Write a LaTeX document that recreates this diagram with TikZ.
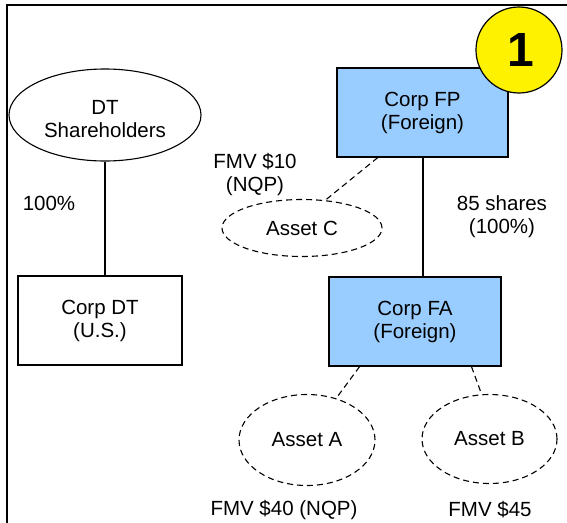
\documentclass[tikz,border=0pt]{standalone}
\usepackage{fontspec}
\setmainfont{Liberation Sans}
\usetikzlibrary{shapes.geometric,calc}
\definecolor{boxblue}{HTML}{99CCFF}
\begin{document}
\begin{tikzpicture}[x=1pt,y=-1pt,
  txt/.style={font=\fontsize{20.5}{23}\selectfont, align=center, inner sep=0pt},
  corpbox/.style={draw, line width=1.2pt, txt, minimum width=#1, minimum height=89pt},
  bluebox/.style={corpbox=#1, fill=boxblue},
  solidell/.style={ellipse, draw, line width=1.1pt, txt},
  assetell/.style={ellipse, draw, dashed, dash pattern=on 6pt off 4pt, line width=1.1pt, txt},
  link/.style={line width=1.1pt},
  dlink/.style={line width=1.1pt, dash pattern=on 6pt off 4pt},
  lbl/.style={txt}
]
\useasboundingbox (0,0) rectangle (567,522);
% frame
\draw[line width=2pt] (7,523) -- (7,5) -- (568,5);

% nodes
\node[solidell, minimum width=192pt, minimum height=92pt] (sh) at (105,115) {};
\node[txt] (shtext) at (105,119) {DT\\Shareholders};
\node[corpbox=164pt] (dt) at (100,320.5) {Corp DT\\(U.S.)};
\node[bluebox=171pt] (fp) at (422.5,112.5) {Corp FP\\(Foreign)};
\node[bluebox=172pt] (fa) at (415,321.5) {Corp FA\\(Foreign)};
\node[assetell, minimum width=160pt, minimum height=57pt] (ac) at (302,228) {Asset C};
\node[assetell, minimum width=136pt, minimum height=91pt] (aa) at (307,440) {Asset A};
\node[assetell, minimum width=135pt, minimum height=89pt] (ab) at (489.5,439) {Asset B};

% badge
\node[circle, draw, fill=yellow, line width=1.2pt, minimum size=86pt, inner sep=0pt] (badge) at (519,50) {};
\node[font=\fontsize{48}{48}\selectfont\bfseries, inner sep=0pt] (one) at (521,50) {1};

% connectors
\draw[link] (sh.south) -- (sh.south |- dt.north);
\draw[link] ($(fp.south west)!0.503!(fp.south east)$) coordinate (fpb) -- (fpb |- fa.north);
\draw[dlink] ($(fp.south west)!0.24!(fp.south east)$) -- (ac.50);
\draw[dlink] ($(fa.south west)!0.18!(fa.south east)$) -- (aa.55);
\draw[dlink] ($(fa.south west)!0.826!(fa.south east)$) -- (ab.100);

% labels
\node[lbl] (l100) at (49,203) {100\%};
\node[lbl] (lfmv10) at (255,175) {FMV \$10\\(NQP)};
\node[lbl] (l85) at (502,216.5) {85 shares\\(100\%)};
\node[lbl] (lfmv40) at (284,510) {FMV \$40 (NQP)};
\node[lbl] (lfmv45) at (490,510) {FMV \$45};
\end{tikzpicture}
\end{document}
